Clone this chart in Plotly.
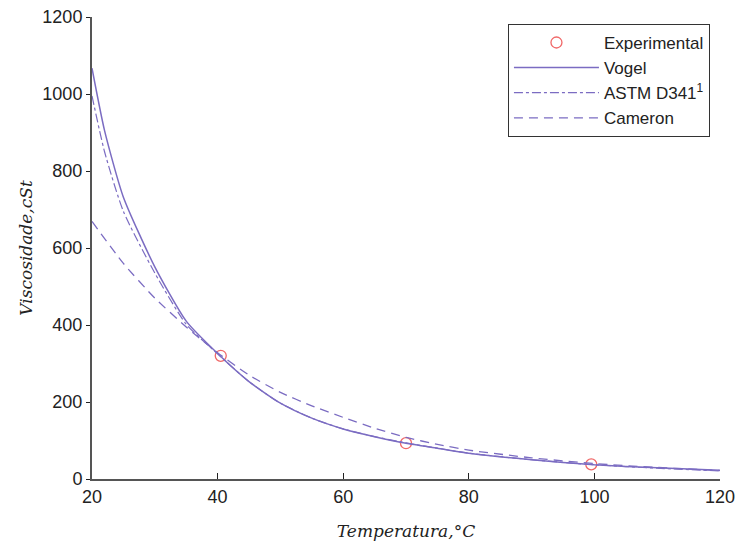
import plotly.graph_objects as go

# Experimental data
exp_T = [40.5, 70.0, 99.5]
exp_visc = [320, 93, 38]

# Model curves
T_vogel = [20, 22, 25, 30, 35, 40, 45, 50, 55, 60, 65, 70, 75, 80, 90, 100, 110, 120]
visc_vogel = [1067, 905, 732, 551, 410, 326, 253, 197, 158, 130, 110, 93, 80, 67, 50, 37, 29, 23]

T_astm = [20, 22, 25, 30, 35, 40, 45, 50, 55, 60, 65, 70, 75, 80, 90, 100, 110, 120]
visc_astm = [995, 850, 695, 535, 402, 325, 253, 197, 158, 130, 110, 94, 80, 67, 50, 37, 28, 21]

T_cameron = [20, 25, 30, 35, 40, 45, 50, 55, 60, 65, 70, 75, 80, 90, 100, 110, 120]
visc_cameron = [669, 560, 470, 395, 328, 270, 225, 190, 160, 132, 108, 90, 75, 55, 40, 30, 22]

x_ticks = [20, 40, 60, 80, 100, 120]
y_ticks = [0, 200, 400, 600, 800, 1000, 1200]

line_color = "#7b6cc2"

fig = go.Figure()
fig.add_trace(go.Scatter(x=exp_T, y=exp_visc, mode="markers", name="Experimental",
                         marker=dict(symbol="circle-open", size=11, color="#f06868", line=dict(width=1.3))))
fig.add_trace(go.Scatter(x=T_vogel, y=visc_vogel, mode="lines", name="Vogel",
                         line=dict(color=line_color, width=1.5, shape="spline", smoothing=0.6)))
fig.add_trace(go.Scatter(x=T_astm, y=visc_astm, mode="lines", name="ASTM D341<sup>1</sup>",
                         line=dict(color=line_color, width=1.2, dash="dashdot", shape="spline", smoothing=0.6)))
fig.add_trace(go.Scatter(x=T_cameron, y=visc_cameron, mode="lines", name="Cameron",
                         line=dict(color=line_color, width=1.3, dash="9px,6px", shape="spline", smoothing=0.6)))

tick_font = dict(family="Liberation Sans, Arial", size=18, color="#222222")
title_font = dict(family="DejaVu Serif, Liberation Serif", size=17, color="#222222")

fig.update_layout(
    width=737, height=546,
    margin=dict(l=92, r=17, t=17, b=67),
    paper_bgcolor="white", plot_bgcolor="white",
    showlegend=True,
    legend=dict(x=0.984, y=0.985, xanchor="right", yanchor="top",
                bordercolor="#333333", borderwidth=1, bgcolor="white",
                font=dict(family="Liberation Sans, Arial", size=17, color="#222222"),
                tracegroupgap=0, itemwidth=85),
    xaxis=dict(range=[20, 120], tickvals=x_ticks, ticktext=[str(v) for v in x_ticks],
               showgrid=False, zeroline=False, showline=True, linecolor="#555555", linewidth=2,
               ticks="inside", ticklen=6, tickcolor="#222222", tickfont=tick_font, automargin=False,
               ticklabeloverflow="allow",
               title=dict(text="<i>Temperatura,°C</i>", font=title_font, standoff=20)),
    yaxis=dict(range=[0, 1200], tickvals=y_ticks, ticktext=[str(v) for v in y_ticks],
               showgrid=False, zeroline=False, showline=True, linecolor="#555555", linewidth=2,
               ticks="outside", ticklen=4, tickcolor="#222222", tickfont=tick_font, automargin=False,
               ticklabeloverflow="allow",
               title=dict(text="<i>Viscosidade,cSt</i>", font=title_font, standoff=5)),
)

fig.write_html("out.html", config={"displayModeBar": False},
               post_script="document.body.style.margin='0';document.body.style.overflow='hidden';")
